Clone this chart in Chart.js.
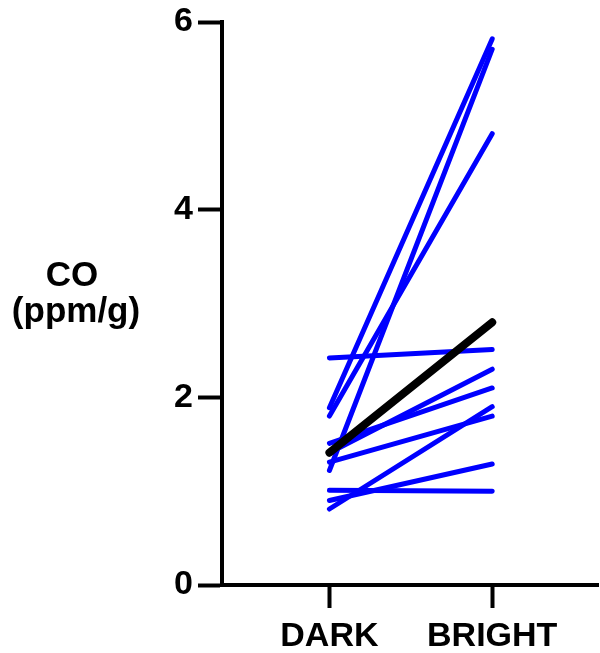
<!DOCTYPE html>
<html>
<head>
<meta charset="utf-8">
<script src="https://cdn.jsdelivr.net/npm/chart.js@4"></script>
<style>
  html, body { margin: 0; padding: 0; background: #fff; }
  #wrap { width: 600px; height: 653px; position: relative; }
</style>
</head>
<body>
<div id="wrap"><canvas id="coChart"></canvas></div>
<script>
// categories and values
const categories = ['DARK', 'BRIGHT'];
const darkValues = [2.42, 1.41, 1.51, 1.31, 0.81, 1.01, 0.90, 1.89, 1.80, 1.22];
const brightValues = [2.51, 2.30, 2.10, 1.80, 1.90, 1.00, 1.29, 5.82, 4.81, 5.71];
const meanValues = [1.41, 2.80];
const yTicks = [0, 2, 4, 6];
const yTitle = ['CO', '(ppm/g)'];

const FONT = '"Liberation Sans", Arial, Helvetica, sans-serif';

// one dataset per subject, plus the black mean line on top
const datasets = darkValues.map((d, i) => ({
  data: [{ x: 1, y: d }, { x: 2, y: brightValues[i] }],
  borderColor: '#0000ff',
  borderWidth: 5,
  borderCapStyle: 'round',
  pointRadius: 0,
  order: 1
}));
datasets.push({
  data: meanValues.map((v, i) => ({ x: i + 1, y: v })),
  borderColor: '#000000',
  borderWidth: 8,
  borderCapStyle: 'round',
  pointRadius: 0,
  order: 0
});

// horizontal y-axis title at the left
const yTitlePlugin = {
  id: 'yTitle',
  afterDraw(chart) {
    const ctx = chart.ctx;
    ctx.save();
    ctx.fillStyle = '#000';
    ctx.font = 'bold 35px ' + FONT;
    ctx.textAlign = 'center';
    ctx.textBaseline = 'alphabetic';
    ctx.fillText(yTitle[0], 72, 286);
    ctx.fillText(yTitle[1], 76, 322);
    ctx.restore();
  }
};

const ctx = document.getElementById('coChart').getContext('2d');
const coChart = new Chart(ctx, {
  type: 'line',
  data: { datasets: datasets },
  options: {
    responsive: true,
    maintainAspectRatio: false,
    animation: false,
    layout: { padding: { top: 16, right: 2, bottom: 0, left: 0 } },
    plugins: { legend: { display: false }, tooltip: { enabled: false } },
    scales: {
      x: {
        type: 'linear',
        min: 0.34,
        max: 2.65,
        afterBuildTicks: scale => { scale.ticks = categories.map((c, i) => ({ value: i + 1 })); },
        afterFit: scale => { scale.height = 68; },
        border: { display: true, color: '#000', width: 4 },
        grid: { drawOnChartArea: false, drawTicks: true, tickLength: 23, tickWidth: 4, tickColor: '#000' },
        ticks: {
          color: '#000',
          padding: 12,
          maxRotation: 0,
          font: { family: FONT, size: 34, weight: 'bold', lineHeight: 1 },
          callback: v => categories[v - 1]
        }
      },
      y: {
        min: 0,
        max: 6,
        afterBuildTicks: scale => { scale.ticks = yTicks.map(v => ({ value: v })); },
        afterFit: scale => { scale.width = 222; },
        border: { display: true, color: '#000', width: 4 },
        grid: { drawOnChartArea: false, drawTicks: true, tickLength: 24, tickWidth: 4, tickColor: '#000' },
        ticks: {
          color: '#000',
          padding: 5,
          font: { family: FONT, size: 34, weight: 'bold', lineHeight: 1 }
        }
      }
    }
  },
  plugins: [yTitlePlugin]
});
</script>
</body>
</html>
